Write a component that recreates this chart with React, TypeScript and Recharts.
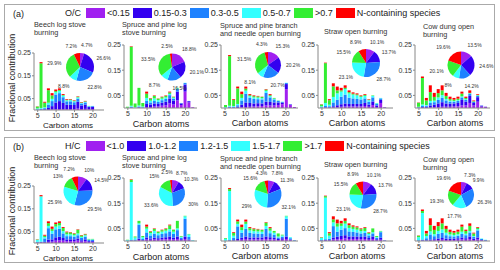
import React from "react";
import { BarChart, Bar, XAxis, YAxis, PieChart, Pie, Cell } from "recharts";

const carbon = [5, 6, 7, 8, 9, 10, 11, 12, 13, 14, 15, 16, 17, 18, 19, 20, 21, 22];
const seriesColors = ["#a020f0", "#3300f0", "#1e82ff", "#33ffff", "#33ee33", "#ff0000"];
const ocClasses = ["<0.15", "0.15-0.3", "0.3-0.5", "0.5-0.7", ">0.7", "N-containing species"];
const hcClasses = ["<1.0", "1.0-1.2", "1.2-1.5", "1.5-1.7", ">1.7", "N-containing species"];
const sourceTitles = [
  ["Beech log stove", "burning"],
  ["Spruce and pine log", "stove burning"],
  ["Spruce and pine branch", "and needle open burning"],
  ["Straw open burning"],
  ["Cow dung open", "burning"],
];
const yTicks = [0, 0.05, 0.1, 0.15, 0.2, 0.25];
const xTicks = [5, 10, 15, 20];

// (a) O/C classes, rows: <0.15, 0.15-0.3, 0.3-0.5, 0.5-0.7, >0.7, N-containing
const beechOC = [
  [0, 0, 0, 0.001, 0.002, 0.003, 0.004, 0.003, 0.003, 0.003, 0.004, 0.006, 0.004, 0.005, 0.003, 0.004, 0, 0],
  [0.001, 0.002, 0.003, 0.008, 0.015, 0.03, 0.035, 0.028, 0.02, 0.02, 0.018, 0.03, 0.016, 0.018, 0.01, 0.01, 0, 0],
  [0.002, 0.003, 0.005, 0.015, 0.022, 0.035, 0.035, 0.025, 0.015, 0.015, 0.012, 0.014, 0.008, 0.01, 0.003, 0.003, 0, 0],
  [0.004, 0.004, 0.004, 0.008, 0.01, 0.01, 0.01, 0.007, 0.004, 0.005, 0.004, 0.005, 0.003, 0.003, 0.001, 0.001, 0, 0],
  [0.008, 0.196, 0.02, 0.055, 0.015, 0.005, 0.004, 0.003, 0.003, 0.003, 0.003, 0.003, 0.002, 0.002, 0.001, 0, 0, 0],
  [0.001, 0.005, 0.004, 0.008, 0.01, 0.007, 0.007, 0.004, 0.003, 0.002, 0.002, 0.002, 0.002, 0.002, 0, 0, 0, 0],
];
const spruceLogOC = [
  [0, 0, 0, 0.001, 0, 0.004, 0.004, 0.006, 0.006, 0.009, 0.011, 0.018, 0.014, 0.03, 0.012, 0.065, 0.022, 0.003],
  [0, 0.002, 0, 0.002, 0.001, 0.012, 0.01, 0.012, 0.01, 0.012, 0.014, 0.02, 0.015, 0.035, 0.006, 0.028, 0.005, 0],
  [0, 0.003, 0.001, 0.003, 0.002, 0.012, 0.008, 0.01, 0.008, 0.01, 0.011, 0.013, 0.008, 0.01, 0.002, 0.006, 0.001, 0],
  [0.001, 0.004, 0.002, 0.004, 0.003, 0.012, 0.007, 0.01, 0.007, 0.006, 0.006, 0.005, 0.004, 0.003, 0, 0.001, 0, 0],
  [0.004, 0.234, 0.015, 0.07, 0.014, 0.017, 0.008, 0.01, 0.006, 0.006, 0.006, 0.006, 0.003, 0.002, 0, 0, 0, 0],
  [0, 0.002, 0, 0, 0, 0.008, 0.002, 0.002, 0.001, 0.002, 0.002, 0.003, 0.001, 0, 0, 0, 0, 0],
];
const branchOC = [
  [0, 0, 0, 0.001, 0.003, 0.004, 0.005, 0.006, 0.007, 0.008, 0.01, 0.01, 0.01, 0.012, 0.015, 0.075, 0.012, 0.004],
  [0, 0.002, 0.002, 0.004, 0.01, 0.018, 0.015, 0.012, 0.012, 0.01, 0.015, 0.014, 0.012, 0.01, 0.006, 0.02, 0.002, 0],
  [0.001, 0.003, 0.003, 0.006, 0.017, 0.035, 0.02, 0.018, 0.016, 0.016, 0.035, 0.018, 0.012, 0.006, 0.003, 0.004, 0.001, 0],
  [0.003, 0.004, 0.003, 0.005, 0.01, 0.012, 0.007, 0.006, 0.006, 0.005, 0.008, 0.005, 0.003, 0.001, 0.001, 0.001, 0, 0],
  [0.008, 0.197, 0.024, 0.062, 0.015, 0.008, 0.004, 0.005, 0.005, 0.005, 0.005, 0.004, 0.003, 0.001, 0, 0, 0, 0],
  [0, 0.004, 0.003, 0.007, 0.01, 0.008, 0.004, 0.003, 0.002, 0.001, 0.002, 0.004, 0, 0, 0, 0, 0, 0],
];
const strawOC = [
  [0, 0.001, 0.001, 0.002, 0.003, 0.005, 0.006, 0.006, 0.006, 0.006, 0.006, 0.008, 0.005, 0.012, 0.004, 0.02, 0.002, 0],
  [0.001, 0.002, 0.002, 0.005, 0.008, 0.01, 0.012, 0.01, 0.01, 0.01, 0.01, 0.012, 0.008, 0.014, 0.006, 0.012, 0.001, 0],
  [0.002, 0.005, 0.004, 0.015, 0.022, 0.03, 0.035, 0.025, 0.022, 0.02, 0.018, 0.018, 0.012, 0.016, 0.006, 0.006, 0, 0],
  [0.004, 0.012, 0.006, 0.022, 0.025, 0.02, 0.022, 0.017, 0.015, 0.014, 0.01, 0.01, 0.006, 0.006, 0.003, 0.002, 0, 0],
  [0.007, 0.158, 0.018, 0.042, 0.012, 0.005, 0.005, 0.005, 0.004, 0.004, 0.003, 0.004, 0.002, 0.002, 0.001, 0, 0, 0],
  [0.001, 0.002, 0.004, 0.012, 0.015, 0.01, 0.01, 0.007, 0.005, 0.004, 0.003, 0.003, 0.002, 0, 0, 0, 0, 0],
];
const cowOC = [
  [0, 0.001, 0.001, 0.002, 0.003, 0.004, 0.005, 0.005, 0.005, 0.006, 0.007, 0.01, 0.01, 0.02, 0.01, 0.025, 0.006, 0.004],
  [0.001, 0.003, 0.004, 0.008, 0.01, 0.014, 0.018, 0.013, 0.012, 0.012, 0.013, 0.022, 0.015, 0.028, 0.01, 0.018, 0.003, 0.001],
  [0.002, 0.004, 0.004, 0.01, 0.01, 0.014, 0.018, 0.012, 0.008, 0.007, 0.008, 0.01, 0.007, 0.008, 0.004, 0.005, 0.001, 0],
  [0.002, 0.006, 0.003, 0.008, 0.006, 0.01, 0.01, 0.006, 0.004, 0.003, 0.003, 0.004, 0.003, 0.002, 0.001, 0.002, 0, 0],
  [0.016, 0.105, 0.018, 0.035, 0.015, 0.017, 0.019, 0.012, 0.007, 0.005, 0.006, 0.011, 0.005, 0.002, 0.002, 0.002, 0, 0],
  [0.001, 0.006, 0.01, 0.027, 0.016, 0.016, 0.02, 0.012, 0.009, 0.007, 0.008, 0.008, 0.005, 0.01, 0.003, 0.003, 0, 0],
];

// (b) H/C classes, rows: <1.0, 1.0-1.2, 1.2-1.5, 1.5-1.7, >1.7, N-containing
const beechHC = [
  [0.001, 0.002, 0.002, 0.005, 0.006, 0.01, 0.012, 0.01, 0.008, 0.008, 0.008, 0.01, 0.006, 0.008, 0.004, 0.004, 0, 0],
  [0.001, 0.002, 0.003, 0.01, 0.01, 0.015, 0.015, 0.012, 0.008, 0.008, 0.008, 0.01, 0.006, 0.008, 0.004, 0.004, 0, 0],
  [0.003, 0.002, 0.015, 0.05, 0.025, 0.035, 0.035, 0.02, 0.014, 0.014, 0.012, 0.014, 0.01, 0.012, 0.006, 0.006, 0, 0],
  [0.008, 0.198, 0.006, 0.01, 0.012, 0.012, 0.015, 0.01, 0.008, 0.008, 0.006, 0.008, 0.005, 0.006, 0.002, 0.002, 0, 0],
  [0.002, 0.001, 0.006, 0.012, 0.009, 0.011, 0.011, 0.014, 0.009, 0.008, 0.007, 0.016, 0.006, 0.004, 0.002, 0.002, 0, 0],
  [0.001, 0.005, 0.004, 0.008, 0.01, 0.007, 0.007, 0.004, 0.003, 0.002, 0.002, 0.002, 0.002, 0.002, 0, 0, 0, 0],
];
const spruceLogHC = [
  [0, 0.001, 0.001, 0.004, 0.002, 0.006, 0.005, 0.006, 0.005, 0.006, 0.007, 0.008, 0.006, 0.008, 0.003, 0.008, 0.003, 0],
  [0, 0.001, 0.001, 0.005, 0.002, 0.008, 0.005, 0.007, 0.006, 0.007, 0.008, 0.01, 0.007, 0.01, 0.004, 0.01, 0.003, 0],
  [0.001, 0.002, 0.004, 0.055, 0.004, 0.02, 0.012, 0.016, 0.012, 0.015, 0.016, 0.02, 0.015, 0.025, 0.006, 0.07, 0.01, 0.001],
  [0.003, 0.23, 0.008, 0.006, 0.007, 0.015, 0.009, 0.011, 0.008, 0.009, 0.01, 0.009, 0.009, 0.007, 0.004, 0.01, 0.01, 0.002],
  [0.001, 0.009, 0.004, 0.01, 0.005, 0.008, 0.006, 0.008, 0.006, 0.006, 0.007, 0.015, 0.007, 0.03, 0.003, 0.002, 0.002, 0],
  [0, 0.002, 0, 0, 0, 0.008, 0.002, 0.002, 0.001, 0.002, 0.002, 0.003, 0.001, 0, 0, 0, 0, 0],
];
const branchHC = [
  [0, 0.001, 0.001, 0.003, 0.005, 0.008, 0.006, 0.006, 0.006, 0.006, 0.008, 0.007, 0.006, 0.004, 0.005, 0.008, 0.003, 0.001],
  [0, 0.001, 0.002, 0.005, 0.008, 0.01, 0.008, 0.008, 0.008, 0.008, 0.01, 0.008, 0.007, 0.004, 0.006, 0.01, 0.003, 0.001],
  [0.001, 0.002, 0.01, 0.05, 0.02, 0.03, 0.018, 0.016, 0.015, 0.014, 0.03, 0.016, 0.012, 0.006, 0.006, 0.07, 0.005, 0.001],
  [0.008, 0.194, 0.008, 0.01, 0.01, 0.02, 0.01, 0.009, 0.009, 0.009, 0.012, 0.01, 0.008, 0.004, 0.005, 0.01, 0.004, 0.001],
  [0.003, 0.008, 0.011, 0.01, 0.012, 0.009, 0.009, 0.008, 0.008, 0.007, 0.013, 0.01, 0.007, 0.012, 0.003, 0.002, 0, 0],
  [0, 0.004, 0.003, 0.007, 0.01, 0.008, 0.004, 0.003, 0.002, 0.001, 0.002, 0.004, 0, 0, 0, 0, 0, 0],
];
const strawHC = [
  [0.001, 0.002, 0.002, 0.006, 0.007, 0.008, 0.01, 0.008, 0.008, 0.008, 0.007, 0.008, 0.005, 0.008, 0.003, 0.005, 0.001, 0],
  [0.001, 0.002, 0.002, 0.008, 0.01, 0.012, 0.013, 0.01, 0.01, 0.01, 0.009, 0.01, 0.007, 0.01, 0.004, 0.008, 0.001, 0],
  [0.002, 0.003, 0.005, 0.045, 0.02, 0.025, 0.028, 0.02, 0.018, 0.016, 0.014, 0.014, 0.01, 0.012, 0.006, 0.022, 0.001, 0],
  [0.008, 0.165, 0.012, 0.015, 0.02, 0.015, 0.018, 0.014, 0.012, 0.011, 0.009, 0.008, 0.006, 0.005, 0.003, 0.003, 0, 0],
  [0.002, 0.006, 0.01, 0.012, 0.013, 0.01, 0.011, 0.011, 0.009, 0.009, 0.008, 0.012, 0.005, 0.015, 0.004, 0.002, 0, 0],
  [0.001, 0.002, 0.004, 0.012, 0.015, 0.01, 0.01, 0.007, 0.005, 0.004, 0.003, 0.003, 0.002, 0, 0, 0, 0, 0],
];
const cowHC = [
  [0, 0.001, 0.001, 0.002, 0.003, 0.004, 0.005, 0.004, 0.004, 0.004, 0.005, 0.006, 0.005, 0.008, 0.004, 0.006, 0.002, 0.001],
  [0.001, 0.002, 0.002, 0.004, 0.004, 0.006, 0.007, 0.005, 0.005, 0.005, 0.006, 0.008, 0.006, 0.01, 0.005, 0.008, 0.002, 0.001],
  [0.002, 0.003, 0.008, 0.02, 0.012, 0.018, 0.02, 0.014, 0.01, 0.009, 0.01, 0.014, 0.012, 0.016, 0.008, 0.028, 0.004, 0.002],
  [0.012, 0.105, 0.009, 0.012, 0.008, 0.012, 0.014, 0.01, 0.007, 0.006, 0.006, 0.009, 0.006, 0.006, 0.003, 0.005, 0.002, 0.001],
  [0.006, 0.008, 0.01, 0.025, 0.017, 0.019, 0.024, 0.015, 0.01, 0.009, 0.01, 0.02, 0.011, 0.02, 0.01, 0.005, 0, 0],
  [0.001, 0.006, 0.01, 0.027, 0.016, 0.016, 0.02, 0.012, 0.009, 0.007, 0.008, 0.008, 0.005, 0.01, 0.003, 0.003, 0, 0],
];

// pie percentages, same class order
const beechOCPie = [4.7, 26.6, 22.8, 8.8, 29.9, 7.2];
const spruceLogOCPie = [18.8, 20.1, 16.5, 8.7, 33.5, 2.5];
const branchOCPie = [15.3, 20.2, 20.7, 8.1, 31.5, 4.3];
const strawOCPie = [10.1, 13.7, 28.7, 23.1, 15.5, 8.9];
const cowOCPie = [13.5, 24.6, 14.2, 8, 20.1, 19.6];
const beechHCPie = [10, 14.5, 29.5, 25.9, 13, 7.2];
const spruceLogHCPie = [8.7, 10.3, 30, 33.6, 15, 2.5];
const branchHCPie = [7.8, 11.3, 32.1, 29, 15.6, 4.3];
const strawHCPie = [10.1, 13.7, 28.7, 23.1, 15.5, 8.9];
const cowHCPie = [7.3, 9.9, 26.3, 17.7, 19.3, 19.6];

const FONT = "'Liberation Sans', Arial, sans-serif";
const ROW_B = 133;

// plot boxes (row a coordinates)
const plots = [
  { left: 34, right: 104, top: 53, bottom: 110 },
  { left: 124, right: 197, top: 45, bottom: 108 },
  { left: 221, right: 298, top: 45, bottom: 108 },
  { left: 318, right: 393, top: 45, bottom: 108 },
  { left: 415, right: 490, top: 45, bottom: 108 },
];
const titlePos = [
  { x: 34, y: 25 },
  { x: 122, y: 25 },
  { x: 220, y: 26 },
  { x: 324, y: 32 },
  { x: 423, y: 27 },
];
const xLabelPos = [
  { x: 68, y: 125, f: 8 },
  { x: 161, y: 124, f: 9 },
  { x: 260, y: 123, f: 9 },
  { x: 357, y: 123, f: 9 },
  { x: 455, y: 123, f: 9 },
];
// pie centres, absolute page coordinates
const piePosA = [
  { cx: 80, cy: 67, r: 14 },
  { cx: 172, cy: 67, r: 13.5 },
  { cx: 268, cy: 65, r: 13 },
  { cx: 366, cy: 63, r: 14 },
  { cx: 461, cy: 65, r: 13.5 },
];
const piePosB = [
  { cx: 78, cy: 191, r: 14.5 },
  { cx: 172, cy: 193, r: 13 },
  { cx: 268, cy: 194, r: 13.5 },
  { cx: 363, cy: 195, r: 13.5 },
  { cx: 461, cy: 195, r: 13 },
];

const RAD = Math.PI / 180;
function pieLabel(props: any) {
  const { cx, cy, midAngle, outerRadius, value } = props;
  const ux = Math.cos(-midAngle * RAD);
  const uy = Math.sin(-midAngle * RAD);
  let x = cx + (outerRadius + 12) * ux;
  const y = cy + (outerRadius + 8) * uy;
  // spread labels of narrow slices near the top and bottom
  if (Math.abs(uy) > 0.8) x += ux >= 0 ? 3 : -3;
  return (
    <text x={x} y={y} textAnchor="middle" dominantBaseline="central" fontSize={5} fill="#333">
      {value}%
    </text>
  );
}

function StackPanel({ matrix, geo, dy }: { matrix: number[][]; geo: any; dy: number }) {
  const rows = carbon.map((c, i) => {
    const r: any = { c };
    matrix.forEach((s, k) => (r["s" + k] = s[i]));
    return r;
  });
  const yw = 24;
  const xh = 12;
  const mt = 4;
  const width = geo.right - geo.left + yw + 3;
  const height = geo.bottom - geo.top + mt + xh;
  const axisStyle = { fontSize: 7, fill: "#333" };
  return (
    <div style={{ position: "absolute", left: geo.left - yw, top: geo.top + dy - mt }}>
      <BarChart width={width} height={height} data={rows} margin={{ top: mt, right: 3, left: 0, bottom: 0 }} barSize={3}>
        <XAxis
          type="number"
          dataKey="c"
          domain={[4, 23]}
          ticks={xTicks}
          height={xh}
          tick={axisStyle}
          tickSize={2}
          tickMargin={1}
          stroke="#888"
          allowDecimals={false}
        />
        <YAxis
          type="number"
          domain={[0, 0.25]}
          ticks={yTicks}
          width={yw}
          tick={axisStyle}
          tickSize={2}
          tickMargin={1}
          stroke="#888"
          tickFormatter={(v: number) => v.toFixed(2)}
        />
        {matrix.map((_, k) => (
          <Bar key={k} dataKey={"s" + k} stackId="a" fill={seriesColors[k]} isAnimationActive={false} />
        ))}
      </BarChart>
    </div>
  );
}

function PiePanel({ values, pos }: { values: number[]; pos: { cx: number; cy: number; r: number } }) {
  const data = values.map((v, i) => ({ v, i }));
  const W = 90;
  const H = 80;
  return (
    <div style={{ position: "absolute", left: pos.cx - W / 2, top: pos.cy - H / 2 }}>
      <PieChart width={W} height={H} margin={{ top: 0, right: 0, bottom: 0, left: 0 }}>
        <Pie
          data={data}
          dataKey="v"
          cx={W / 2}
          cy={H / 2}
          outerRadius={pos.r}
          startAngle={90}
          endAngle={-270}
          stroke="none"
          label={pieLabel}
          labelLine={false}
          isAnimationActive={false}
        >
          {data.map((d) => (
            <Cell key={d.i} fill={seriesColors[d.i]} />
          ))}
        </Pie>
      </PieChart>
    </div>
  );
}

function Legend({ tag, head, classes, dy }: { tag: string; head: string; classes: string[]; dy: number }) {
  return (
    <>
      <div style={{ position: "absolute", left: 13, top: 8 + dy, fontSize: 9, lineHeight: "12px" }}>{tag}</div>
      <div
        style={{
          position: "absolute",
          left: 65,
          top: 7 + dy,
          display: "flex",
          alignItems: "center",
          fontSize: 9,
          lineHeight: "12px",
          whiteSpace: "nowrap",
        }}
      >
        <span style={{ marginRight: 5 }}>{head}</span>
        {classes.map((c, i) => (
          <React.Fragment key={c}>
            <span style={{ display: "inline-block", width: 19, height: 10, background: seriesColors[i], marginRight: 2 }} />
            <span style={{ marginRight: 3 }}>{c}</span>
          </React.Fragment>
        ))}
      </div>
    </>
  );
}

function Row({ dy, tag, head, classes, mats, pies, piePos }: any) {
  return (
    <>
      <div
        style={{
          position: "absolute",
          left: 4,
          top: 4 + dy,
          width: 491,
          height: dy === 0 ? 127 : 126,
          border: "1px solid #aaa",
          boxSizing: "border-box",
        }}
      />
      <Legend tag={tag} head={head} classes={classes} dy={dy} />
      <div
        style={{
          position: "absolute",
          left: 12,
          top: 78 + dy,
          transform: "translate(-50%, -50%) rotate(-90deg)",
          fontSize: 9,
          whiteSpace: "nowrap",
        }}
      >
        Fractional contribution
      </div>
      {plots.map((g, i) => (
        <React.Fragment key={i}>
          <div
            style={{
              position: "absolute",
              left: titlePos[i].x,
              top: titlePos[i].y - 4 + dy,
              fontSize: 7.3,
              lineHeight: "8px",
              color: "#333",
              whiteSpace: "nowrap",
            }}
          >
            {sourceTitles[i].map((t) => (
              <div key={t}>{t}</div>
            ))}
          </div>
          <StackPanel matrix={mats[i]} geo={g} dy={dy} />
          <div
            style={{
              position: "absolute",
              left: xLabelPos[i].x,
              top: xLabelPos[i].y + dy,
              transform: "translate(-50%, -50%)",
              fontSize: xLabelPos[i].f,
              whiteSpace: "nowrap",
            }}
          >
            Carbon atoms
          </div>
          <PiePanel values={pies[i]} pos={piePos[i]} />
        </React.Fragment>
      ))}
    </>
  );
}

export default function App() {
  return (
    <div
      style={{
        position: "absolute",
        left: 0,
        top: 0,
        width: 500,
        height: 270,
        background: "#fff",
        fontFamily: FONT,
        color: "#222",
        overflow: "hidden",
      }}
    >
      <Row
        dy={0}
        tag="(a)"
        head="O/C"
        classes={ocClasses}
        mats={[beechOC, spruceLogOC, branchOC, strawOC, cowOC]}
        pies={[beechOCPie, spruceLogOCPie, branchOCPie, strawOCPie, cowOCPie]}
        piePos={piePosA}
      />
      <Row
        dy={ROW_B}
        tag="(b)"
        head="H/C"
        classes={hcClasses}
        mats={[beechHC, spruceLogHC, branchHC, strawHC, cowHC]}
        pies={[beechHCPie, spruceLogHCPie, branchHCPie, strawHCPie, cowHCPie]}
        piePos={piePosB}
      />
    </div>
  );
}
